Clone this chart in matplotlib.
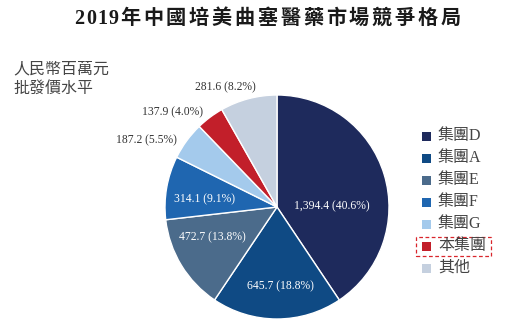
import matplotlib
matplotlib.use("Agg")
import matplotlib.pyplot as plt
from matplotlib.patches import Rectangle

# Market data (RMB million, wholesale price level)
groups = ["集團D", "集團A", "集團E", "集團F", "集團G", "本集團", "其他"]
values = [1394.4, 645.7, 472.7, 314.1, 187.2, 137.9, 281.6]
shares = [40.6, 18.8, 13.8, 9.1, 5.5, 4.0, 8.2]
title = "2019年中國培美曲塞醫藥市場競爭格局"

colors = ["#1e2a5c", "#0f4a84", "#4b6b8b", "#1f66b0", "#a4caec", "#c21f2a", "#c5d0df"]
label_colors = ["white", "white", "white", "white", "#333333", "#333333", "#333333"]
label_pos = [(0.49, 0.01), (0.03, -0.71), (-0.58, -0.27), (-0.65, 0.07),
             (-1.17, 0.60), (-0.93, 0.85), (-0.46, 1.07)]

W, H = 505, 328
fig = plt.figure(figsize=(W / 100, H / 100), dpi=100)

serif_cjk = ["Liberation Serif", "Noto Sans CJK TC"]

# Title with wide letter spacing: place glyphs one by one
x = 74.0
for ch in title:
    if ch.isdigit():
        adv = 11.25
    else:
        adv = 22.9
        if x < 121:
            x = 121.0
    fig.text((x + adv / 2 - (0 if ch.isdigit() else 2.5)) / W, 1 - 19 / H, ch,
             family=serif_cjk, fontsize=14.5, fontweight="bold",
             ha="center", va="center", color="#1a1a1a")
    x += adv

fig.text(13 / W, 1 - 69 / H, "人民幣百萬元", family=serif_cjk, fontsize=11.5,
         ha="left", va="center", color="#444444")
fig.text(13 / W, 1 - 89 / H, "批發價水平", family=serif_cjk, fontsize=11.5,
         ha="left", va="center", color="#444444")

# Pie
cx, cy, r = 277, 207, 112
ax = fig.add_axes([(cx - r) / W, (H - cy - r) / H, 2 * r / W, 2 * r / H])
ax.pie(values, colors=colors, startangle=90, counterclock=False, radius=1,
       wedgeprops=dict(edgecolor="white", linewidth=1))
ax.set_xlim(-1, 1)
ax.set_ylim(-1, 1)
ax.set_aspect("auto")
ax.axis("off")

for v, s, (lx, ly), c in zip(values, shares, label_pos, label_colors):
    ax.text(lx, ly, f"{v:,.1f} ({s:.1f}%)", family="Liberation Serif",
            fontsize=8.4, ha="center", va="center", color=c, clip_on=False)

# Legend
row_y = [136, 158, 180, 202, 224, 246, 268]
for name, col, y in zip(groups, colors, row_y):
    fig.patches.append(Rectangle(((426.5 - 4.5) / W, (H - y - 4.5) / H), 9 / W, 9 / H,
                                 transform=fig.transFigure, facecolor=col,
                                 edgecolor="none"))
    fig.text(438 / W, 1 - y / H, name, family=serif_cjk, fontsize=11.5,
             ha="left", va="center", color="#444444")

# Highlight box around our group
fig.patches.append(Rectangle((416 / W, (H - 256) / H), 75 / W, 19 / H,
                             transform=fig.transFigure, facecolor="none",
                             edgecolor="#d9262c", linestyle=(0, (3, 2)),
                             linewidth=0.9))

fig.savefig("out.png", dpi=100)
